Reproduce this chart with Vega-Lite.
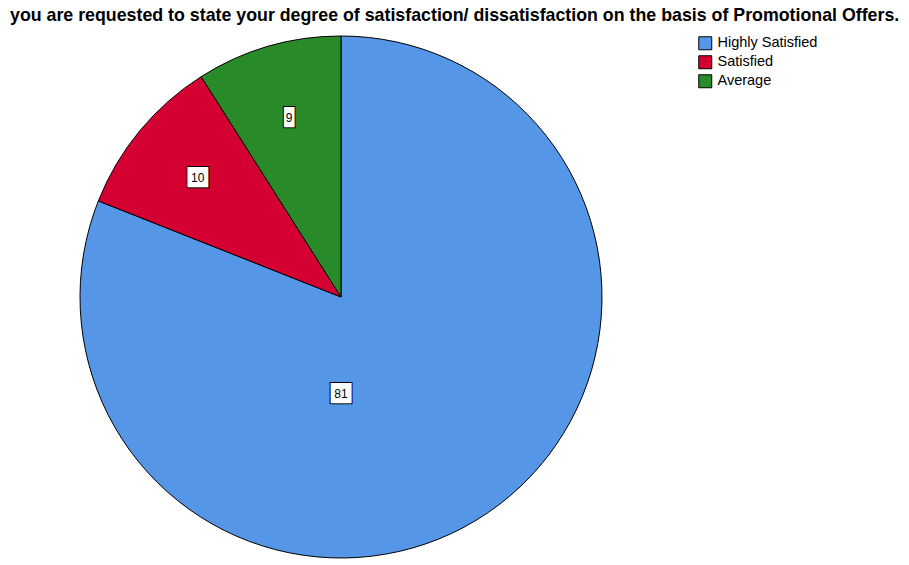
{
  "$schema": "https://vega.github.io/schema/vega-lite/v6.json",
  "autosize": "none",
  "padding": {"left": 80, "top": 36, "right": 307, "bottom": 7},
  "width": 522,
  "height": 522,
  "background": "white",
  "title": {
    "text": "you are requested to state your degree of satisfaction/ dissatisfaction on the basis of Promotional Offers.",
    "anchor": "start",
    "frame": "group",
    "dx": -70,
    "offset": 9,
    "font": "Liberation Sans",
    "fontSize": 17.8,
    "fontWeight": "bold",
    "color": "black"
  },
  "data": {
    "values": [
      {"category": "Highly Satisfied", "count": 81},
      {"category": "Satisfied", "count": 10},
      {"category": "Average", "count": 9}
    ]
  },
  "transform": [
    {"calculate": "indexof(['Highly Satisfied','Satisfied','Average'], datum.category)", "as": "rank"},
    {"calculate": "datum.count >= 10 ? '\u2588\u2588' : '\u2588'", "as": "box"},
    {"calculate": "datum.count < 50 ? datum.box : ''", "as": "smallbox"},
    {"calculate": "datum.count < 50 ? '' + datum.count : ''", "as": "smalllabel"}
  ],
  "encoding": {
    "theta": {"field": "count", "type": "quantitative", "stack": true},
    "order": {"field": "rank", "type": "quantitative"}
  },
  "layer": [
    {
      "mark": {"type": "arc", "stroke": "black", "strokeWidth": 1},
      "encoding": {
        "color": {
          "field": "category",
          "type": "nominal",
          "sort": ["Highly Satisfied", "Satisfied", "Average"],
          "scale": {"domain": ["Highly Satisfied", "Satisfied", "Average"], "range": ["#5596E6", "#D50032", "#298A29"]},
          "legend": {
            "title": null,
            "orient": "none",
            "legendX": 618,
            "legendY": 0,
            "symbolType": "square",
            "symbolSize": 169,
            "symbolStrokeColor": "black",
            "symbolStrokeWidth": 1,
            "symbolOpacity": 1,
            "labelFont": "Liberation Sans",
            "labelFontSize": 14.5,
            "labelColor": "black",
            "rowPadding": 1,
            "labelOffset": 5
          }
        }
      }
    },
    {
      "mark": {"type": "text", "font": "DejaVu Sans Mono", "fontSize": 17, "fill": "white", "stroke": "black", "strokeWidth": 2, "radius": 186, "baseline": "middle", "align": "center"},
      "encoding": {"text": {"field": "smallbox"}}
    },
    {
      "mark": {"type": "text", "font": "DejaVu Sans Mono", "fontSize": 17, "fill": "white", "radius": 186, "baseline": "middle", "align": "center"},
      "encoding": {"text": {"field": "smallbox"}}
    },
    {
      "mark": {"type": "text", "font": "Liberation Sans", "fontSize": 12, "fill": "black", "radius": 186, "baseline": "middle", "align": "center"},
      "encoding": {"text": {"field": "smalllabel"}}
    },
    {
      "transform": [{"filter": "datum.count >= 50"}],
      "mark": {"type": "text", "font": "DejaVu Sans Mono", "fontSize": 17, "fill": "white", "stroke": "black", "strokeWidth": 2, "radius": 97, "baseline": "middle", "align": "center"},
      "encoding": {"theta": {"value": 3.1416}, "text": {"field": "box"}}
    },
    {
      "transform": [{"filter": "datum.count >= 50"}],
      "mark": {"type": "text", "font": "DejaVu Sans Mono", "fontSize": 17, "fill": "white", "radius": 97, "baseline": "middle", "align": "center"},
      "encoding": {"theta": {"value": 3.1416}, "text": {"field": "box"}}
    },
    {
      "transform": [{"filter": "datum.count >= 50"}],
      "mark": {"type": "text", "font": "Liberation Sans", "fontSize": 12, "fill": "black", "radius": 97, "baseline": "middle", "align": "center"},
      "encoding": {"theta": {"value": 3.1416}, "text": {"field": "count"}}
    }
  ]
}
